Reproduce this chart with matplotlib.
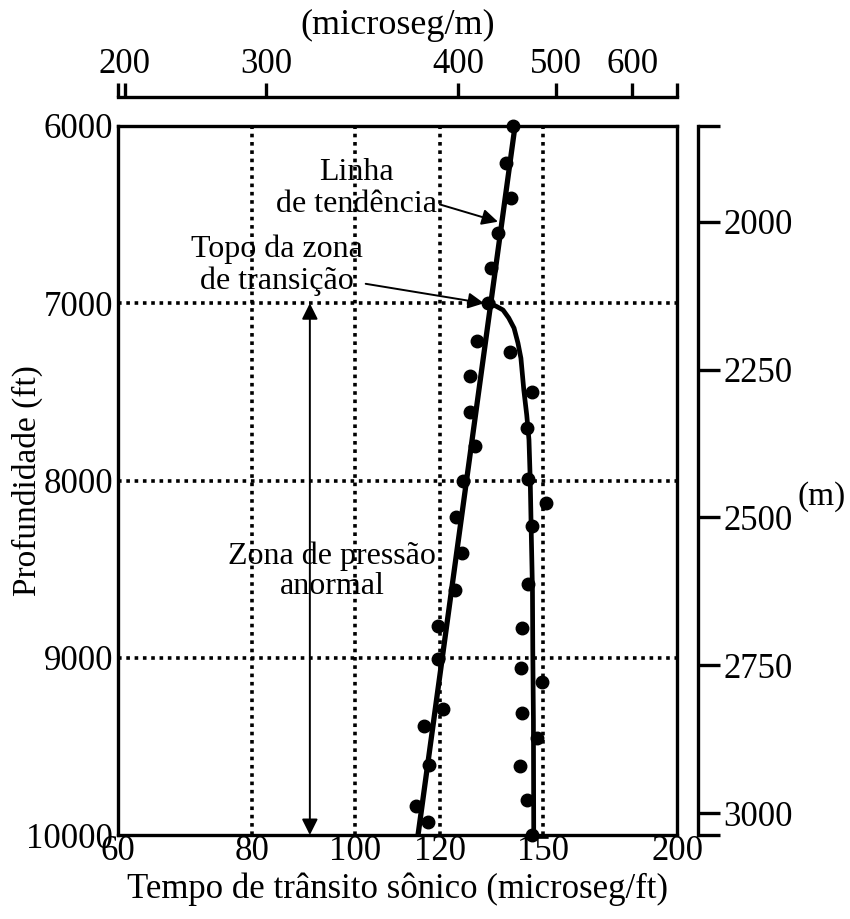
import matplotlib
matplotlib.use("Agg")
import matplotlib.pyplot as plt
from matplotlib.ticker import NullLocator

plt.rcParams['font.family'] = ['Liberation Serif', 'DejaVu Serif']

# === data ===
# measured points: depth (ft) and sonic transit time (microseg/ft)
depth_pts = [6000, 6210, 6405, 6605, 6800, 7000, 7215, 7275, 7410, 7500,
             7615, 7705, 7805, 8000, 7990, 8125, 8205, 8255, 8410, 8585,
             8620, 8820, 8830, 9005, 9060, 9135, 9290, 9310, 9385, 9450,
             9605, 9610, 9835, 9800, 9925, 10000]
dt_pts = [140.5, 138.4, 139.8, 136.0, 134.0, 133.1, 130.0, 139.5, 128.1, 146.3,
          128.1, 144.7, 129.5, 126.2, 145.0, 150.7, 124.3, 146.3, 125.9, 145.0,
          124.0, 119.6, 143.2, 119.6, 142.9, 149.4, 120.9, 143.2, 116.1, 147.9,
          117.3, 142.6, 113.9, 144.7, 117.1, 146.3]

# normal compaction trend line
trend_depth = [6000, 10000]
trend_dt = [141.1, 114.5]

# curve through the abnormal pressure zone
curve_depth = [7000, 7016, 7038, 7083, 7140, 7225, 7310, 7490, 7630, 7770,
               8000, 8280, 8620, 8955, 9350, 10000]
curve_dt = [133.4, 135.4, 137.5, 139.2, 140.8, 142.0, 142.9, 143.8, 144.7, 145.4,
            145.8, 146.1, 146.5, 146.6, 146.8, 146.9]

x_ticks = [60, 80, 100, 120, 150, 200]
x_grid = [80, 100, 120, 150]
y_ticks = [6000, 7000, 8000, 9000, 10000]
y_grid = [7000, 8000, 9000]

# top axis (microseg/m), positions as drawn in the figure (in microseg/ft units)
top_labels = ['', '200', '300', '400', '500', '600', '']
top_pos = [60, 60.9, 82.5, 124.8, 154.1, 181.6, 200]

# right axis (m), range as drawn against the ft axis
m_range = (3037, 1838)
m_ticks = [1838, 2000, 2250, 2500, 2750, 3000, 3037]
m_labels = ['', '2000', '2250', '2500', '2750', '3000', '']

TICK_FS = 25
LABEL_FS = 24
NOTE_FS = 23
W, H = 850, 919
LW = 2.4

fig = plt.figure(figsize=(W / 100, H / 100), dpi=100)
ax = fig.add_axes([118 / W, 1 - 835 / H, 559 / W, 709 / H])

ax.set_xscale('log')
ax.set_xlim(60, 200)
ax.set_ylim(10000, 6000)

# dotted grid
dots = (0, (1, 1.3))
for g in x_grid:
    ax.axvline(g, color='black', lw=2.6, ls=dots, zorder=1)
for g in y_grid:
    ax.axhline(g, color='black', lw=2.6, ls=dots, zorder=1)

ax.plot(trend_dt, trend_depth, color='black', lw=3.8, zorder=3, solid_capstyle='butt')
ax.plot(curve_dt, curve_depth, color='black', lw=3.4, zorder=3)
ax.plot(dt_pts, depth_pts, 'o', color='black', ms=9, zorder=4, clip_on=False)

ax.set_xticks(x_ticks)
ax.set_xticklabels([str(v) for v in x_ticks])
ax.xaxis.set_minor_locator(NullLocator())
ax.set_yticks(y_ticks)
ax.set_yticklabels([str(v) for v in y_ticks])
ax.tick_params(axis='x', length=0, labelsize=TICK_FS, pad=0)
ax.tick_params(axis='y', length=0, labelsize=TICK_FS, pad=3.6)
for s in ax.spines.values():
    s.set_linewidth(LW)

ax.set_xlabel('Tempo de trânsito sônico (microseg/ft)', fontsize=LABEL_FS + 1)
ax.xaxis.set_label_coords(0.5, -(873 - 835) / 709)
ax.set_ylabel('Profundidade (ft)', fontsize=LABEL_FS)
ax.yaxis.set_label_coords(-(118 - 43) / 559, 0.5)

# annotations
arrow = dict(arrowstyle='-|>', color='black', lw=1.4, mutation_scale=24,
             shrinkA=0, shrinkB=0)
ax.annotate('Linha\nde tendência', xy=(136.0, 6540), xytext=(100.3, 6353),
            ha='center', va='center', fontsize=NOTE_FS, linespacing=1.1,
            arrowprops=dict(arrow, relpos=(1.0, 0.25)), zorder=5)
ax.annotate('Topo da zona\nde transição', xy=(132.0, 7000), xytext=(84.5, 6784),
            ha='center', va='center', fontsize=NOTE_FS, linespacing=1.1,
            arrowprops=dict(arrow, relpos=(1.0, 0.2)), zorder=5)
ax.annotate('', xy=(90.7, 10000), xytext=(90.7, 7000),
            arrowprops=dict(arrowstyle='<|-|>', color='black', lw=1.4,
                            mutation_scale=24, shrinkA=0, shrinkB=0))
ax.text(95.1, 8511, 'Zona de pressão\nanormal', ha='center', va='center',
        fontsize=NOTE_FS, linespacing=1.05)

# top axis in microseg/m
ax2 = ax.twiny()
ax2.set_xscale('log')
ax2.set_xlim(60, 200)
for k in ['left', 'right', 'bottom']:
    ax2.spines[k].set_visible(False)
ax2.spines['top'].set_position(('outward', 21))
ax2.spines['top'].set_linewidth(LW)
ax2.set_xticks(top_pos)
ax2.set_xticklabels(top_labels)
ax2.xaxis.set_minor_locator(NullLocator())
ax2.tick_params(axis='x', direction='out', length=10, width=LW,
                labelsize=TICK_FS, pad=1.5)
ax2.set_xlabel('(microseg/m)', fontsize=LABEL_FS + 2)
ax2.xaxis.set_label_coords(0.5, (835 - 34) / 709)

# right axis in meters
ax3 = ax.twinx()
ax3.set_ylim(*m_range)
for k in ['left', 'top', 'bottom']:
    ax3.spines[k].set_visible(False)
ax3.spines['right'].set_position(('outward', 15))
ax3.spines['right'].set_linewidth(LW)
ax3.set_yticks(m_ticks)
ax3.set_yticklabels(m_labels)
ax3.yaxis.set_minor_locator(NullLocator())
ax3.tick_params(axis='y', direction='out', length=15.5, width=LW,
                labelsize=TICK_FS, pad=3)
ax3.set_ylabel('(m)', fontsize=LABEL_FS, rotation=0, va='center', ha='center')
ax3.yaxis.set_label_coords((822 - 118) / 559, (835 - 497) / 709)

fig.savefig('out.png', dpi=100)
